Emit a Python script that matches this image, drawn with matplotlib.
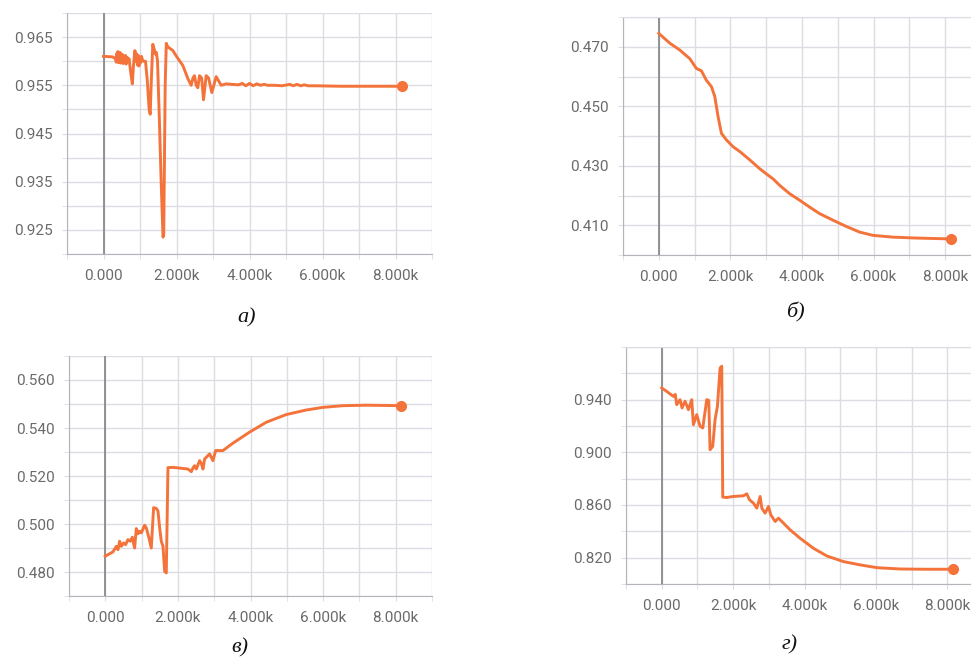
import matplotlib
matplotlib.use("Agg")
import matplotlib.pyplot as plt
from matplotlib.ticker import MultipleLocator, FuncFormatter

W, H = 971, 658

# --- panel a) ---
steps_a = [0, 250, 330, 350, 365, 380, 395, 410, 425, 440, 455, 470, 485, 500, 520,
           540, 560, 580, 600, 620, 650, 680, 700, 740, 790, 820, 860, 890, 910,
           930, 950, 970, 990, 1010, 1040, 1080,
           1150, 1200, 1250, 1280, 1310, 1350, 1390, 1420, 1450, 1480, 1530, 1580,
           1630, 1650, 1690, 1720, 1760, 1900, 2000, 2174, 2311, 2402, 2450, 2493,
           2540, 2584, 2630, 2690, 2740, 2813, 2880, 2968, 3087, 3224, 3361, 3500,
           3700, 3800, 3900, 4000, 4100, 4200, 4300, 4400, 4500, 4700, 4900, 5100,
           5200, 5300, 5400, 5500, 5600, 5800, 6500, 7500, 8170]
vals_a = [0.9610, 0.9609, 0.9605, 0.9598, 0.9616, 0.9600, 0.9620, 0.9597, 0.9614,
          0.9599, 0.9618, 0.9596, 0.9612, 0.9598, 0.9614, 0.9595, 0.9610, 0.9597,
          0.9612, 0.9594, 0.9608, 0.9600, 0.9605, 0.9580, 0.9553, 0.9590, 0.9622,
          0.9600, 0.9615, 0.9592, 0.9612, 0.9590, 0.9608, 0.9596, 0.9610, 0.9600,
          0.9600, 0.9560, 0.9500, 0.9490, 0.9560, 0.9635, 0.9625,
          0.9615, 0.9618, 0.9600, 0.9480, 0.9350, 0.9235, 0.9240, 0.9550, 0.9637,
          0.9630, 0.9622, 0.9610, 0.9591, 0.9564, 0.9550, 0.9565, 0.9570, 0.9550,
          0.9545, 0.9570, 0.9565, 0.9520, 0.9570, 0.9565, 0.9535, 0.9568, 0.9550,
          0.9553, 0.9552, 0.9551, 0.9554, 0.9549, 0.9554, 0.9549, 0.9553, 0.9550,
          0.9552, 0.9550, 0.9550, 0.9549, 0.9552, 0.9549, 0.9552, 0.9549, 0.9551,
          0.9549, 0.9549, 0.9548, 0.9548, 0.9548]

# --- panel б) ---
steps_b = [0, 307, 586, 865, 1051, 1191, 1330, 1470, 1563, 1656, 1749, 1888, 2074,
           2260, 2539, 2819, 3000, 3191, 3377, 3656, 3935, 4214, 4493, 4865, 5237,
           5609, 5981, 6540, 7191, 8167]
vals_b = [0.4745, 0.4712, 0.4689, 0.4660, 0.4627, 0.4619, 0.4587, 0.4566, 0.4533,
          0.4465, 0.4409, 0.4387, 0.4364, 0.4348, 0.4320, 0.4290, 0.4273, 0.4256,
          0.4234, 0.4206, 0.4184, 0.4161, 0.4139, 0.4117, 0.4096, 0.4077, 0.4066,
          0.4060, 0.4057, 0.4054]

# --- panel в) ---
steps_c = [0, 211, 303, 349, 395, 441, 505, 560, 624, 689, 744, 808, 854, 900, 946,
           992, 1084, 1129, 1203, 1267, 1331, 1405, 1451, 1497, 1543, 1589, 1635,
           1680, 1726, 1864, 2048, 2277, 2369, 2420, 2461, 2507, 2599, 2650, 2690,
           2736, 2874, 2966, 3039, 3241, 3517, 3976, 4435, 4986, 5537, 5996, 6547,
           7190, 8154]
vals_c = [0.4866, 0.4884, 0.4907, 0.4893, 0.4928, 0.4907, 0.4921, 0.4914, 0.4935,
          0.4928, 0.4945, 0.4900, 0.4981, 0.4959, 0.4970, 0.4963, 0.4995, 0.4984,
          0.4942, 0.4900, 0.5068, 0.5065, 0.5054, 0.4984, 0.4928, 0.4907, 0.4803,
          0.4796, 0.5235, 0.5236, 0.5233, 0.5229, 0.5218, 0.5235, 0.5243, 0.5229,
          0.5264, 0.5250, 0.5229, 0.5271, 0.5292, 0.5264, 0.5306, 0.5306, 0.5337,
          0.5383, 0.5424, 0.5456, 0.5475, 0.5486, 0.5493, 0.5495, 0.5493]

# --- panel г) ---
steps_d = [0, 140, 327, 380, 421, 514, 570, 654, 748, 841, 888, 981, 1075, 1150,
           1262, 1318, 1355, 1430, 1495, 1561, 1636, 1682, 1710, 1822, 2009, 2290,
           2383, 2458, 2570, 2664, 2757, 2804, 2897, 2991, 3056, 3178, 3271, 3364,
           3598, 3879, 4252, 4626, 5093, 5561, 6028, 6682, 7430, 8159]
vals_d = [0.9489, 0.9463, 0.9425, 0.9440, 0.9362, 0.9400, 0.9337, 0.9388, 0.9324,
          0.9400, 0.9210, 0.9286, 0.9198, 0.9185, 0.9400, 0.9395, 0.9020, 0.9046,
          0.9250, 0.9350, 0.9641, 0.9654, 0.8660, 0.8657, 0.8665, 0.8670, 0.8685,
          0.8640, 0.8614, 0.8576, 0.8665, 0.8576, 0.8538, 0.8589, 0.8525, 0.8475,
          0.8500, 0.8475, 0.8411, 0.8347, 0.8271, 0.8213, 0.8170, 0.8145, 0.8124,
          0.8114, 0.8112, 0.8112]

panel_labels = ["а)", "б)", "в)", "г)"]

LINE = "#f4733a"
GRID = "#dcdce4"
TEXT = "#6a6a6a"


def fmt_step(v, pos):
    if abs(v) < 1e-9:
        return "0.000"
    return "%.3fk" % (v / 1000.0)


def px_rect(left, top, right, bottom):
    return [left / W, 1 - bottom / H, (right - left) / W, (bottom - top) / H]


def draw_panel(ax, steps, vals, ylim, ymajor, yminor, top_line):
    ax.plot(steps, vals, color=LINE, lw=2.1, solid_joinstyle="round")
    ax.plot(steps[-1:], vals[-1:], "o", color=LINE, ms=7)
    ax.set_xlim(-1000, 9000)
    ax.set_ylim(*ylim)
    ax.xaxis.set_major_locator(MultipleLocator(2000))
    ax.xaxis.set_minor_locator(MultipleLocator(1000))
    ax.xaxis.set_major_formatter(FuncFormatter(fmt_step))
    ax.yaxis.set_major_locator(MultipleLocator(ymajor))
    ax.yaxis.set_minor_locator(MultipleLocator(yminor))
    ax.yaxis.set_major_formatter(FuncFormatter(lambda v, p: "%.3f" % v))
    ax.grid(True, which="both", color=GRID, lw=1.0)
    ax.set_axisbelow(True)
    ax.axvline(0, color="#8a8a8a", lw=1.3, zorder=1)
    ax.spines["right"].set_visible(False)
    ax.spines["top"].set_visible(top_line)
    ax.spines["top"].set_color(GRID)
    ax.spines["left"].set_color("#b4b4bc")
    ax.spines["bottom"].set_color("#b4b4bc")
    ax.tick_params(which="both", length=3.5, color=GRID, labelcolor=TEXT,
                   labelsize=11, pad=7)
    ax.set_facecolor("white")


fig = plt.figure(figsize=(W / 100, H / 100), dpi=100)

ax_a = fig.add_axes(px_rect(67, 13, 432, 254))
draw_panel(ax_a, steps_a, vals_a, (0.920, 0.970), 0.010, 0.005, False)
ax_a.set_yticks([0.925, 0.935, 0.945, 0.955, 0.965])

ax_b = fig.add_axes(px_rect(623, 17, 981, 255))
draw_panel(ax_b, steps_b, vals_b, (0.400, 0.480), 0.020, 0.010, True)
ax_b.set_yticks([0.410, 0.430, 0.450, 0.470])

ax_c = fig.add_axes(px_rect(69, 356, 432, 596))
draw_panel(ax_c, steps_c, vals_c, (0.470, 0.570), 0.020, 0.010, False)
ax_c.set_yticks([0.480, 0.500, 0.520, 0.540, 0.560])

ax_d = fig.add_axes(px_rect(626, 347, 983, 584))
draw_panel(ax_d, steps_d, vals_d, (0.800, 0.980), 0.040, 0.020, True)
ax_d.set_yticks([0.820, 0.860, 0.900, 0.940])

for ax in [ax_a, ax_b, ax_c, ax_d]:
    for lab in ax.get_xticklabels() + ax.get_yticklabels():
        lab.set_fontfamily("Roboto")

label_pos = [(247, 318), (795, 312), (240, 648), (790, 645)]
for (x, y), txt in zip(label_pos, panel_labels):
    fig.text(x / W, 1 - y / H, txt, ha="center", va="center",
             fontsize=16, style="italic", family="Liberation Serif", color="#111111")

fig.savefig("out.png", dpi=100, facecolor="white")
